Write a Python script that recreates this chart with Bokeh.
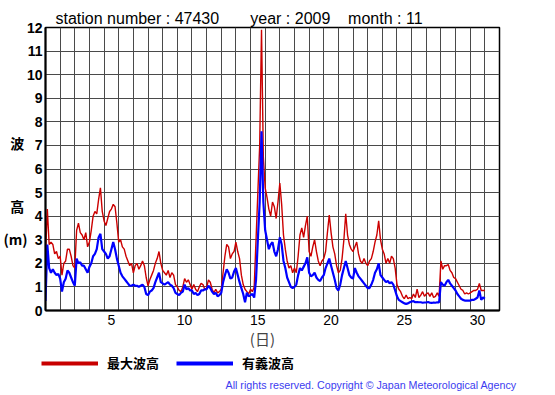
import math
from bokeh.plotting import figure
from bokeh.layouts import column
from bokeh.models import (ColumnDataSource, Range1d, FixedTicker, Legend, LegendItem,
                          LinearAxis, Title, Label)
from bokeh.embed import file_html
from bokeh.resources import INLINE

# 3-hourly readings, Nov 1 00:00 .. Nov 31 00:00 (8 values per day)
max_wave = [
    2.4, 4.3, 2.8, 2.9, 2.8, 2.4, 2.5, 2.2,      # 1
    2.3, 1.5, 2.0, 2.1, 2.6, 2.6, 2.3, 1.9,      # 2
    1.8, 3.4, 3.7, 3.3, 3.2, 3.0, 3.3, 2.7,      # 3
    2.9, 3.4, 4.0, 4.2, 4.1, 4.7, 5.2, 4.2,      # 4
    3.8, 3.6, 3.9, 4.2, 4.3, 4.5, 4.4, 3.7,      # 5
    2.9, 3.0, 2.7, 2.6, 2.3, 2.1, 1.9, 2.0,      # 6
    1.6, 1.9, 2.0, 1.75, 1.9, 2.1, 1.9, 1.4,     # 7
    1.05, 1.3, 1.5, 1.7, 2.0, 2.2, 2.5, 2.0,     # 8
    1.7, 1.6, 1.5, 1.7, 1.4, 1.6, 1.5, 1.1,      # 9
    1.0, 0.85, 0.8, 1.0, 1.35, 1.2, 1.3, 1.1,    # 10
    0.9, 1.1, 0.9, 0.8, 1.0, 1.15, 1.1, 0.9,     # 11
    0.95, 1.3, 1.2, 0.9, 0.75, 0.9, 0.75, 0.8,   # 12
    0.9, 1.6, 2.3, 2.8, 2.7, 2.2, 2.4, 2.5,      # 13
    2.9, 2.5, 2.2, 1.5, 1.1, 0.9, 0.8, 0.7,      # 14
    0.9, 0.8, 1.0, 3.0, 5.0, 7.0, 11.9, 6.5,     # 15
    5.2, 4.8, 4.3, 4.0, 4.6, 4.4, 3.9, 4.6,      # 16
    5.4, 4.5, 3.2, 2.6, 2.1, 1.8, 1.9, 1.6,      # 17
    1.8, 1.6, 2.3, 3.2, 3.5, 3.1, 3.6, 4.0,      # 18
    2.5, 2.3, 2.7, 3.0, 2.5, 2.1, 1.9, 2.1,      # 19
    2.2, 2.5, 3.3, 4.05, 3.3, 2.7, 2.4, 1.9,     # 20
    1.6, 1.7, 2.2, 3.0, 4.1, 3.2, 2.8, 2.6,      # 21
    2.5, 2.7, 2.9, 2.4, 2.1, 2.0, 2.2, 2.0,      # 22
    1.9, 2.1, 2.2, 2.5, 2.9, 3.2, 3.8, 3.0,      # 23
    2.6, 2.4, 2.0, 2.2, 2.0, 2.3, 2.2, 1.8,      # 24
    1.1, 0.9, 0.8, 0.6, 0.5, 0.65, 0.5, 0.55,    # 25
    0.5, 0.7, 0.55, 0.9, 0.55, 0.65, 0.8, 0.6,   # 26
    0.7, 0.75, 0.6, 0.75, 0.55, 0.6, 0.75, 0.6,  # 27
    2.1, 1.75, 1.9, 1.9, 1.95, 1.7, 1.6, 1.4,    # 28
    1.35, 1.2, 1.05, 0.9, 0.85, 0.7, 0.75, 0.7,  # 29
    0.75, 0.8, 0.85, 0.85, 0.9, 1.15, 0.85, 0.85,  # 30
    0.85,
]

sig_wave = [
    0.4, 2.8, 1.8, 1.6, 1.75, 1.6, 1.5, 1.55,     # 1
    1.35, 0.8, 1.2, 1.35, 1.7, 1.6, 1.4, 1.2,     # 2
    1.05, 2.2, 2.0, 2.05, 1.9, 1.9, 1.75, 1.6,    # 3
    1.85, 2.0, 2.3, 2.4, 2.6, 3.1, 3.25, 2.6,     # 4
    2.5, 2.4, 2.2, 2.3, 2.6, 2.9, 2.6, 2.2,       # 5
    1.9, 1.6, 1.45, 1.35, 1.25, 1.15, 1.05, 1.05,  # 6
    1.1, 1.05, 1.05, 1.0, 1.05, 1.1, 1.0, 0.7,    # 7
    0.65, 0.8, 0.85, 0.95, 1.2, 1.4, 1.6, 1.2,    # 8
    1.15, 1.1, 1.15, 1.2, 1.1, 1.05, 0.95, 0.75,  # 9
    0.7, 0.65, 0.75, 0.8, 1.1, 0.9, 0.95, 0.85,   # 10
    0.85, 0.7, 0.75, 0.65, 0.7, 0.85, 0.85, 0.9,  # 11
    0.9, 1.05, 0.95, 0.8, 0.7, 0.75, 0.6, 0.65,   # 12
    0.75, 1.2, 1.5, 1.75, 1.6, 1.35, 1.4, 1.65,   # 13
    1.8, 1.5, 1.2, 0.95, 0.7, 0.35, 0.75, 0.6,    # 14
    0.65, 0.7, 0.55, 1.3, 3.0, 4.6, 7.6, 4.6,     # 15
    3.4, 3.0, 2.6, 2.8, 2.9, 2.5, 2.3, 2.6,       # 16
    3.1, 2.8, 2.1, 1.8, 1.4, 1.2, 1.0, 0.95,      # 17
    1.0, 1.1, 1.5, 1.8, 1.7, 1.85, 2.0, 2.25,     # 18
    1.6, 1.45, 1.5, 1.6, 1.4, 1.3, 1.25, 1.4,     # 19
    1.5, 1.8, 2.0, 2.2, 1.9, 1.6, 1.3, 0.95,      # 20
    0.85, 1.1, 1.5, 1.8, 2.1, 1.8, 1.5, 1.4,      # 21
    1.35, 1.8, 1.6, 1.45, 1.35, 1.25, 1.15, 1.05,  # 22
    0.95, 0.95, 1.1, 1.3, 1.6, 1.75, 2.0, 1.5,    # 23
    1.4, 1.3, 1.2, 1.25, 1.15, 1.2, 1.1, 0.85,    # 24
    0.6, 0.45, 0.4, 0.35, 0.3, 0.28, 0.3, 0.35,   # 25
    0.38, 0.4, 0.35, 0.36, 0.35, 0.35, 0.33, 0.34,  # 26
    0.34, 0.36, 0.33, 0.32, 0.34, 0.33, 0.35, 0.34,  # 27
    1.2, 1.1, 1.05, 1.2, 1.3, 1.15, 1.05, 0.95,   # 28
    0.85, 0.7, 0.6, 0.5, 0.45, 0.42, 0.42, 0.42,  # 29
    0.42, 0.45, 0.45, 0.5, 0.55, 0.85, 0.45, 0.55,  # 30
    0.5,
]

day_ticks = [5, 10, 15, 20, 25, 30]
value_ticks = list(range(0, 13))
NB = "\u00a0"
title_text = ("station number : 47430" + NB * 7 + "year : 2009" + NB * 4 + "month : 11")
side_labels = ["波", "高", "(m)"]
x_label = "(日)"
legend_labels = ["最大波高", "有義波高"]
copyright_text = "All rights reserved. Copyright © Japan Meteorological Agency"

RED = "#cc0000"
BLUE = "#0000ff"
FIG_W = 547

# time axis in days (day 1 00:00 = 1.0), 3-hour step
time_days = [1 + i * 3 / 24 for i in range(len(max_wave))]
src = ColumnDataSource(dict(t=time_days, hmax=max_wave, hsig=sig_wave))

p = figure(width=FIG_W, height=351, output_backend="svg", toolbar_location=None,
           x_range=Range1d(1, 32), y_range=Range1d(0, 12),
           min_border_left=45, min_border_right=48, min_border_top=27, min_border_bottom=40)
p.frame_align = False
p.background_fill_color = "white"
p.border_fill_color = "white"
p.outline_line_color = "black"
p.outline_line_width = 1.5

r_max = p.line("t", "hmax", source=src, line_color=RED, line_width=1.4)
r_sig = p.line("t", "hsig", source=src, line_color=BLUE, line_width=2.2)

# grid
p.xgrid.ticker = FixedTicker(ticks=list(range(2, 32)))
p.ygrid.ticker = FixedTicker(ticks=value_ticks[1:-1])
for g in (p.xgrid, p.ygrid):
    g.grid_line_color = "#4a4a4a"
    g.grid_line_width = 1
    g.grid_line_alpha = 1.0

# axes
p.xaxis.ticker = FixedTicker(ticks=[d + 0.5 for d in day_ticks])
p.xaxis.major_label_overrides = {d + 0.5: str(d) for d in day_ticks}
p.yaxis.ticker = FixedTicker(ticks=value_ticks)
for ax in (p.xaxis, p.yaxis):
    ax.axis_line_color = "black"
    ax.axis_line_width = 2
    ax.major_tick_line_color = None
    ax.minor_tick_line_color = None
    ax.major_tick_in = 0
    ax.major_tick_out = 0
    ax.major_label_text_color = "black"
    ax.major_label_text_font = "Liberation Sans"
p.xaxis.major_label_text_font_size = "14px"
p.xaxis.major_label_standoff = 4
p.xaxis.axis_label = x_label + NB * 6
p.xaxis.axis_label_standoff = 0
p.xaxis.axis_label_text_font = "Noto Sans CJK JP"
p.xaxis.axis_label_text_font_size = "15px"
p.xaxis.axis_label_text_font_style = "normal"
p.yaxis.major_label_text_font_size = "14px"
p.yaxis.major_label_text_font_style = "bold"
p.yaxis.major_label_standoff = 3

# side text (波 / 高 / (m)) as an extra left axis with labelled positions
side_y = [7.1, 4.44, 3.04]
side_axis = LinearAxis(ticker=FixedTicker(ticks=side_y),
                       major_label_overrides={y: (t if t == "(m)" else t + NB)
                                              for y, t in zip(side_y, side_labels)})
side_axis.axis_line_color = None
side_axis.major_tick_line_color = None
side_axis.minor_tick_line_color = None
side_axis.major_tick_in = 0
side_axis.major_tick_out = 0
side_axis.major_label_standoff = -4
side_axis.major_label_text_font = "Noto Sans CJK JP"
side_axis.major_label_text_font_size = "14px"
side_axis.major_label_text_font_style = "bold"
side_axis.major_label_text_color = "black"
p.add_layout(side_axis, "left")

# title line
t = Title(text=title_text, align="left", offset=10, standoff=2,
          text_font="Liberation Sans", text_font_size="16px", text_font_style="normal",
          text_color="black")
p.add_layout(t, "above")

# ---- legend / copyright strip (its frame is the whole strip, pixel units, y down)
STRIP_H = 44
q = figure(width=FIG_W, height=STRIP_H, output_backend="svg", toolbar_location=None,
           x_range=Range1d(0, FIG_W), y_range=Range1d(STRIP_H, 0),
           x_axis_location=None, y_axis_location=None,
           min_border_left=0, min_border_right=0, min_border_top=0, min_border_bottom=0)
q.frame_align = False
q.grid.visible = False
q.outline_line_color = None
q.background_fill_color = "white"
q.border_fill_color = "white"

nan = math.nan
s_max = q.line(x=[nan, nan], y=[nan, nan], line_color="#c80000", line_width=4)
s_sig = q.line(x=[nan, nan], y=[nan, nan], line_color=BLUE, line_width=4)
legend = Legend(items=[LegendItem(label=legend_labels[0], renderers=[s_max]),
                       LegendItem(label=legend_labels[1], renderers=[s_sig])],
                orientation="horizontal", location=(41, STRIP_H - 21),
                padding=0, margin=0, spacing=17, glyph_width=57, glyph_height=18,
                label_height=18, label_standoff=9,
                label_text_font="Noto Sans CJK JP", label_text_font_size="13px",
                label_text_font_style="bold", label_text_color="black",
                border_line_color=None, background_fill_alpha=0)
q.add_layout(legend, "center")

q.add_layout(Label(x=225, y=33, text=copyright_text, text_font="Liberation Sans",
                   text_font_size="10.7px", text_baseline="middle", text_align="left",
                   text_color="#3c3cf0"))

layout = column(p, q, spacing=0)
open("out.html", "w").write(file_html(layout, INLINE))
